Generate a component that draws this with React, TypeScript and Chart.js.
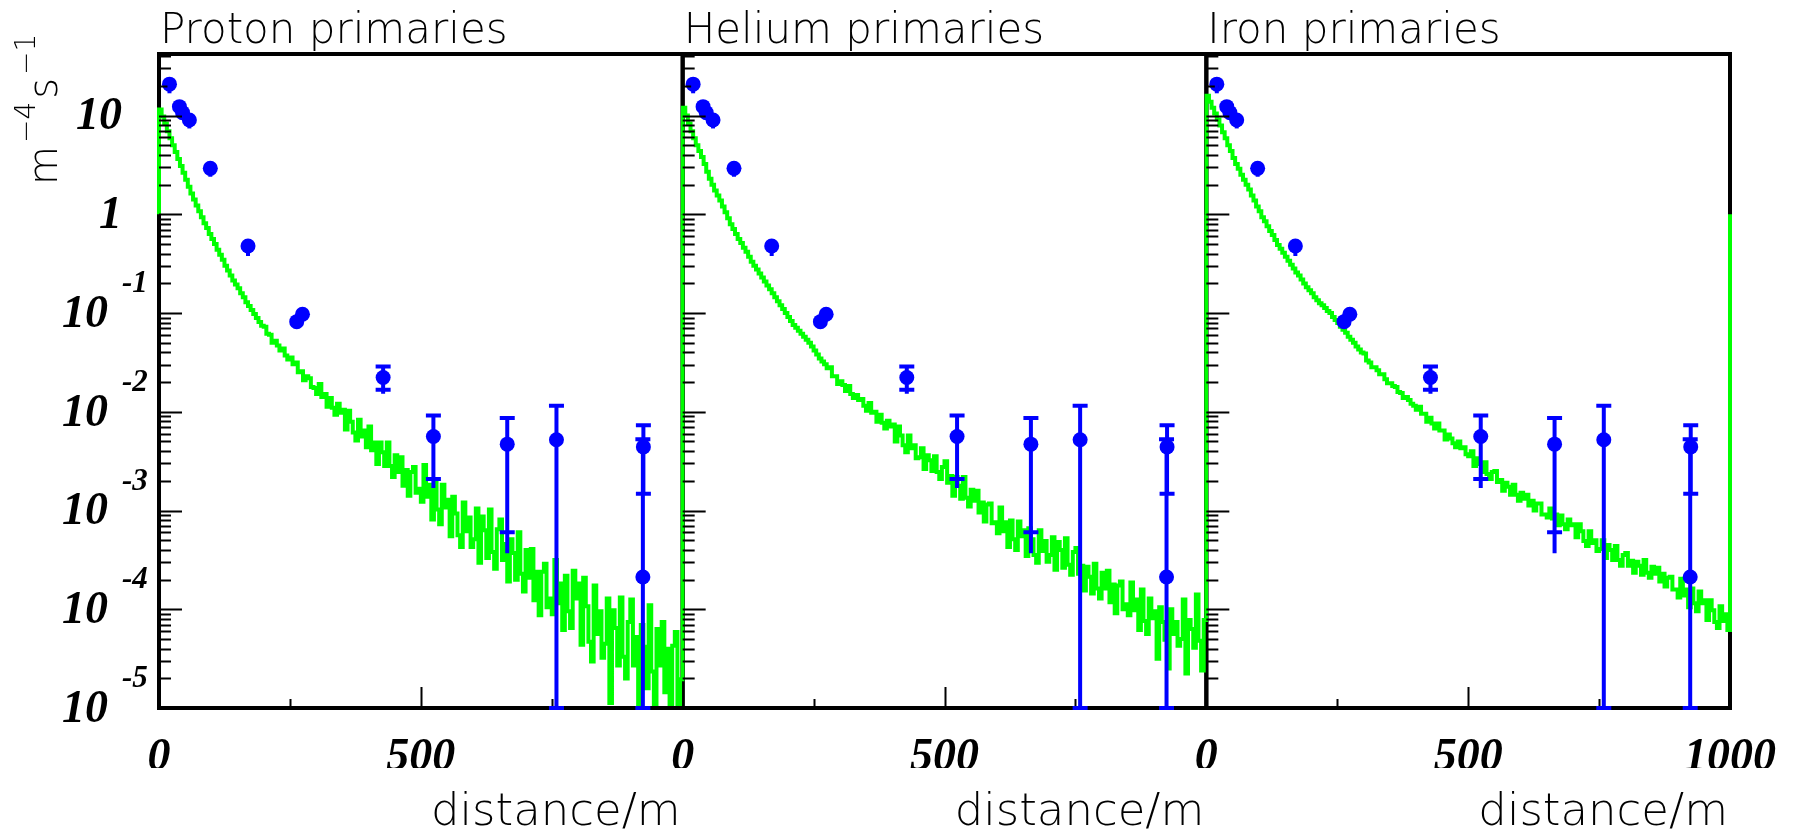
import { useEffect, useRef } from "react";
import { Chart, registerables } from "chart.js";

Chart.register(...registerables);

// ---------------- data ----------------
const PANEL_TITLES = ["Proton primaries", "Helium primaries", "Iron primaries"];
const X_AXIS_TITLE = "distance/m";
const Y_TITLE_PARTS: [string, boolean][] = [
  ["m", false],
  ["\u22124", true],
  ["s", false],
  ["\u22121", true],
];

// simulated lateral distributions as log10(flux / m^-4 s^-1),
// one value per 5 m bin from 0 to 1000 m
const HIST_BIN_WIDTH = 5;
const HIST_BASELINE = 1;

const PROTON_LOG10_FLUX = [
  1.06, 0.99, 0.92, 0.84, 0.77, 0.70, 0.63, 0.56, 0.49, 0.42,
  0.35, 0.28, 0.21, 0.15, 0.09, 0.03, -0.03, -0.09, -0.14, -0.20,
  -0.25, -0.30, -0.36, -0.41, -0.46, -0.52, -0.57, -0.62, -0.67, -0.71,
  -0.75, -0.80, -0.84, -0.89, -0.93, -0.97, -1.01, -1.05, -1.09, -1.13,
  -1.14, -1.21, -1.22, -1.30, -1.28, -1.33, -1.38, -1.36, -1.43, -1.47,
  -1.45, -1.52, -1.50, -1.60, -1.59, -1.68, -1.64, -1.66, -1.75, -1.76,
  -1.82, -1.72, -1.85, -1.82, -1.95, -1.86, -1.96, -2.03, -1.92, -2.01,
  -1.98, -2.18, -1.99, -2.10, -2.21, -2.29, -2.08, -2.25, -2.19, -2.36,
  -2.15, -2.39, -2.31, -2.53, -2.31, -2.41, -2.55, -2.31, -2.55, -2.66,
  -2.44, -2.61, -2.46, -2.75, -2.59, -2.85, -2.61, -2.56, -2.82, -2.78,
  -2.91, -2.54, -2.86, -2.74, -3.09, -2.72, -2.99, -3.14, -2.74, -2.97,
  -2.89, -3.26, -2.86, -3.03, -3.25, -3.37, -2.92, -3.21, -3.07, -3.37,
  -3.29, -2.98, -3.53, -3.06, -3.20, -3.48, -2.99, -3.42, -3.59, -3.19,
  -3.09, -3.50, -3.34, -3.72, -3.29, -3.43, -3.70, -3.22, -3.64, -3.82,
  -3.40, -3.68, -3.39, -3.91, -3.62, -4.06, -3.62, -3.54, -3.98, -3.89,
  -4.05, -3.50, -3.94, -3.74, -4.21, -3.66, -4.02, -4.19, -3.61, -3.89,
  -3.74, -4.36, -3.68, -3.97, -4.33, -4.53, -3.76, -4.25, -4.02, -4.49,
  -4.35, -3.89, -4.95, -4.01, -4.19, -4.57, -3.88, -4.48, -4.70, -4.13,
  -3.90, -4.57, -4.28, -5.20, -4.16, -4.38, -4.80, -3.96, -4.63, -5.10,
  -4.20, -4.57, -4.13, -4.84, -4.40, -5.30, -4.37, -4.23, -5.20, -4.71,
];

const HELIUM_LOG10_FLUX = [
  1.08, 1.00, 0.92, 0.84, 0.77, 0.70, 0.64, 0.58, 0.51, 0.43,
  0.36, 0.30, 0.24, 0.19, 0.14, 0.08, 0.02, -0.04, -0.10, -0.15,
  -0.20, -0.25, -0.29, -0.34, -0.38, -0.43, -0.48, -0.52, -0.56, -0.60,
  -0.64, -0.68, -0.72, -0.76, -0.80, -0.84, -0.88, -0.92, -0.96, -1.00,
  -1.04, -1.08, -1.12, -1.15, -1.18, -1.21, -1.24, -1.27, -1.30, -1.34,
  -1.38, -1.42, -1.46, -1.49, -1.52, -1.56, -1.55, -1.64, -1.64, -1.72,
  -1.69, -1.73, -1.79, -1.74, -1.82, -1.86, -1.83, -1.88, -1.87, -1.94,
  -1.99, -1.91, -2.01, -2.00, -2.10, -2.03, -2.11, -2.17, -2.09, -2.15,
  -2.13, -2.30, -2.15, -2.24, -2.34, -2.41, -2.24, -2.37, -2.34, -2.47,
  -2.46, -2.37, -2.58, -2.44, -2.49, -2.60, -2.45, -2.61, -2.68, -2.56,
  -2.50, -2.72, -2.65, -2.85, -2.66, -2.75, -2.88, -2.66, -2.87, -2.96,
  -2.79, -2.90, -2.80, -3.02, -2.92, -3.11, -2.94, -2.93, -3.13, -3.12,
  -3.23, -2.97, -3.21, -3.12, -3.37, -3.10, -3.29, -3.40, -3.11, -3.26,
  -3.20, -3.46, -3.18, -3.29, -3.45, -3.53, -3.20, -3.41, -3.31, -3.52,
  -3.45, -3.27, -3.60, -3.32, -3.40, -3.58, -3.28, -3.55, -3.65, -3.42,
  -3.38, -3.64, -3.56, -3.81, -3.57, -3.67, -3.84, -3.54, -3.79, -3.89,
  -3.63, -3.79, -3.61, -3.93, -3.75, -4.04, -3.76, -3.72, -4.00, -3.95,
  -4.06, -3.73, -4.01, -3.90, -4.21, -3.80, -4.12, -4.25, -3.89, -4.09,
  -4.02, -4.50, -3.98, -4.13, -4.31, -4.60, -4.00, -4.25, -4.13, -4.37,
  -4.30, -3.90, -4.65, -4.11, -4.20, -4.39, -3.85, -4.32, -4.62, -4.11,
];

const IRON_LOG10_FLUX = [
  1.20, 1.14, 1.08, 1.02, 0.96, 0.90, 0.83, 0.77, 0.70, 0.64,
  0.57, 0.51, 0.46, 0.40, 0.35, 0.30, 0.25, 0.19, 0.14, 0.08,
  0.03, -0.03, -0.07, -0.12, -0.17, -0.21, -0.26, -0.31, -0.35, -0.39,
  -0.43, -0.47, -0.51, -0.55, -0.59, -0.62, -0.66, -0.70, -0.74, -0.77,
  -0.80, -0.84, -0.87, -0.90, -0.92, -0.95, -0.98, -1.00, -1.04, -1.07,
  -1.10, -1.14, -1.17, -1.20, -1.24, -1.27, -1.30, -1.34, -1.37, -1.40,
  -1.41, -1.48, -1.50, -1.55, -1.55, -1.58, -1.62, -1.62, -1.67, -1.71,
  -1.71, -1.74, -1.75, -1.80, -1.81, -1.86, -1.85, -1.88, -1.92, -1.94,
  -1.98, -1.95, -2.02, -2.02, -2.10, -2.06, -2.12, -2.17, -2.12, -2.19,
  -2.19, -2.28, -2.23, -2.27, -2.32, -2.36, -2.30, -2.37, -2.36, -2.43,
  -2.45, -2.40, -2.55, -2.47, -2.53, -2.61, -2.51, -2.63, -2.68, -2.61,
  -2.60, -2.71, -2.69, -2.80, -2.72, -2.76, -2.84, -2.74, -2.84, -2.90,
  -2.82, -2.88, -2.84, -2.95, -2.90, -3.00, -2.93, -2.93, -3.04, -3.04,
  -3.07, -2.98, -3.08, -3.04, -3.15, -3.05, -3.14, -3.19, -3.09, -3.15,
  -3.14, -3.27, -3.14, -3.21, -3.31, -3.36, -3.21, -3.33, -3.30, -3.41,
  -3.39, -3.30, -3.48, -3.35, -3.40, -3.50, -3.36, -3.50, -3.56, -3.45,
  -3.43, -3.56, -3.51, -3.63, -3.52, -3.56, -3.65, -3.50, -3.63, -3.68,
  -3.57, -3.64, -3.58, -3.72, -3.64, -3.77, -3.68, -3.67, -3.80, -3.80,
  -3.88, -3.69, -3.86, -3.80, -3.98, -3.79, -3.94, -4.02, -3.82, -3.94,
  -3.91, -4.11, -3.91, -4.01, -4.13, -4.19, -3.97, -4.12, -4.05, -4.21,
];

// measured data (same in every panel), m^-4 s^-1
const DATA_DISTANCE = [20, 39, 45, 58, 98, 170, 263, 274, 428, 524, 665, 759, 925, 924];
const DATA_FLUX = [20.8, 12.3, 10.7, 9.0, 2.92, 0.478, 0.0818, 0.0973, 0.0222, 0.00561, 0.0047, 0.0052, 0.00441, 0.000212];
const DATA_ERR_HIGH = [null, null, null, null, null, null, null, null, 0.0287, 0.00916, 0.00867, 0.0115, 0.0073, 0.00528];
const DATA_ERR_LOW = [null, null, null, null, null, null, null, null, 0.0167, 0.00208, 0.000604, 1e-7, 0.00148, 1e-7];
const DATA_TAIL_LOW = [16.8, null, null, 7.4, 2.4, 0.378, null, null, 0.0152, 0.00169, 0.00037, null, null, null];

// axes
const X_MIN = 0;
const X_MAX = 1000;
const X_TICK_STEP = 500;
const X_MAJOR_TICKS = [500];
const X_MINOR_TICKS = [250, 750];
const Y_MIN = 1e-5;
const Y_MAX = 42;
const Y_DECADES = [10, 1, 0.1, 0.01, 0.001, 0.0001, 0.00001];
const Y_LABEL_BASE = ["10", "1", "10", "10", "10", "10", "10"];
const Y_LABEL_EXP = ["", "", "-1", "-2", "-3", "-4", "-5"];
const Y_MINOR_FACTORS = [2, 3, 4, 5, 6, 7, 8, 9];

// ---------------- style ----------------
const W = 1799;
const H = 835;
const PAD = { left: 159, right: 59, top: 54, bottom: 67 };
const X_AXIS_BOX = 60;
const PANEL_IDS = ["x0", "x1", "x2"];
const LOG_FLUXES = [PROTON_LOG10_FLUX, HELIUM_LOG10_FLUX, IRON_LOG10_FLUX];
const GREEN = "#00ff00";
const BLUE = "#0000ff";
const NUM_FONT = '"Liberation Serif", "Times New Roman", serif';
const TEXT_FONT = '"DejaVu Sans", "Noto Sans", sans-serif';

function histogramPoints(logValues: number[]) {
  const pts: { x: number; y: number }[] = [{ x: 0, y: HIST_BASELINE }];
  logValues.forEach((lv, i) => pts.push({ x: i * HIST_BIN_WIDTH, y: Math.pow(10, lv) }));
  pts.push({ x: logValues.length * HIST_BIN_WIDTH, y: HIST_BASELINE });
  return pts;
}

const rootStylePlugin = {
  id: "rootStyle",
  beforeDatasetsDraw(chart: any) {
    const { ctx, chartArea } = chart;
    ctx.save();
    ctx.strokeStyle = "#000";
    ctx.lineWidth = 4;
    PANEL_IDS.forEach((id) => {
      const s = chart.scales[id];
      ctx.strokeRect(s.left, chartArea.top, s.right - s.left, chartArea.bottom - chartArea.top);
    });
    ctx.restore();
  },
  afterDatasetsDraw(chart: any) {
    const { ctx, chartArea } = chart;
    const ys = chart.scales.y;
    ctx.save();
    // ticks (inside the frame)
    ctx.strokeStyle = "#000";
    ctx.lineWidth = 2;
    PANEL_IDS.forEach((id) => {
      const s = chart.scales[id];
      const left = s.left;
      ctx.beginPath();
      Y_DECADES.forEach((d) => {
        const y = Math.round(ys.getPixelForValue(d)) + 0.5;
        ctx.moveTo(left, y);
        ctx.lineTo(left + 23, y);
        Y_MINOR_FACTORS.forEach((f) => {
          const v = d * f;
          if (v < Y_MAX && v > Y_MIN) {
            const ym = Math.round(ys.getPixelForValue(v)) + 0.5;
            ctx.moveTo(left, ym);
            ctx.lineTo(left + 12, ym);
          }
        });
      });
      X_MAJOR_TICKS.forEach((t) => {
        const x = Math.round(s.getPixelForValue(t)) + 0.5;
        ctx.moveTo(x, chartArea.bottom);
        ctx.lineTo(x, chartArea.bottom - 21);
      });
      X_MINOR_TICKS.forEach((t) => {
        const x = Math.round(s.getPixelForValue(t)) + 0.5;
        ctx.moveTo(x, chartArea.bottom);
        ctx.lineTo(x, chartArea.bottom - 9);
      });
      ctx.stroke();
    });

    // error bars
    ctx.beginPath();
    ctx.rect(chartArea.left, chartArea.top, chartArea.right - chartArea.left, chartArea.bottom - chartArea.top + 2);
    ctx.clip();
    ctx.strokeStyle = BLUE;
    ctx.lineWidth = 4;
    const capHalf = 7.5;
    PANEL_IDS.forEach((id) => {
      const s = chart.scales[id];
      DATA_DISTANCE.forEach((d, i) => {
        const x = s.getPixelForValue(d);
        const y0 = ys.getPixelForValue(DATA_FLUX[i]);
        ctx.beginPath();
        const hi = DATA_ERR_HIGH[i];
        const lo = DATA_ERR_LOW[i];
        const tail = DATA_TAIL_LOW[i];
        if (tail != null) {
          const yt = ys.getPixelForValue(Math.max(tail, Y_MIN));
          ctx.moveTo(x, y0);
          ctx.lineTo(x, yt);
        }
        if (hi != null) {
          const yh = ys.getPixelForValue(hi);
          ctx.moveTo(x, y0);
          ctx.lineTo(x, yh);
          ctx.moveTo(x - capHalf, yh);
          ctx.lineTo(x + capHalf, yh);
        }
        if (lo != null) {
          const yl = Math.min(ys.getPixelForValue(Math.max(lo, Y_MIN)), chartArea.bottom);
          ctx.moveTo(x, y0);
          ctx.lineTo(x, yl);
          ctx.moveTo(x - capHalf, yl);
          ctx.lineTo(x + capHalf, yl);
        }
        ctx.stroke();
      });
    });
    ctx.restore();
  },
  afterDraw(chart: any) {
    const { ctx } = chart;
    const ys = chart.scales.y;
    ctx.save();
    ctx.fillStyle = "#000";
    // panel titles and x titles
    PANEL_IDS.forEach((id, p) => {
      const s = chart.scales[id];
      ctx.font = `200 42px ${TEXT_FONT}`;
      ctx.textAlign = "left";
      ctx.textBaseline = "alphabetic";
      ctx.fillText(PANEL_TITLES[p], s.left + 1, 43);
      ctx.font = `200 45px ${TEXT_FONT}`;
      ctx.textAlign = "right";
      ctx.fillText(X_AXIS_TITLE, s.right - 2, 825);
    });
    // y tick labels
    ctx.textBaseline = "middle";
    Y_DECADES.forEach((d, i) => {
      const y = ys.getPixelForValue(d);
      if (Y_LABEL_EXP[i]) {
        ctx.font = `italic bold 46px ${NUM_FONT}`;
        ctx.textAlign = "right";
        ctx.fillText(Y_LABEL_BASE[i], 108, y + 2);
        ctx.font = `italic bold 31px ${NUM_FONT}`;
        ctx.textAlign = "left";
        ctx.fillText(Y_LABEL_EXP[i], 122, y - 29);
      } else {
        ctx.font = `italic bold 46px ${NUM_FONT}`;
        ctx.textAlign = "right";
        ctx.fillText(Y_LABEL_BASE[i], 122, y + 2);
      }
    });
    // y axis title (rotated)
    ctx.translate(57, 185);
    ctx.rotate(-Math.PI / 2);
    ctx.textAlign = "left";
    ctx.textBaseline = "alphabetic";
    let cx = 0;
    Y_TITLE_PARTS.forEach(([txt, sup]) => {
      ctx.font = sup ? `200 28px ${TEXT_FONT}` : `200 40px ${TEXT_FONT}`;
      ctx.fillText(txt, cx, sup ? -22 : 0);
      cx += ctx.measureText(txt).width + 3;
    });
    ctx.restore();
  },
};

export default function App() {
  const canvasRef = useRef<HTMLCanvasElement | null>(null);

  useEffect(() => {
    const canvas = canvasRef.current;
    if (!canvas) return;
    const datasets: any[] = [];
    LOG_FLUXES.forEach((f, p) => {
      datasets.push({
        type: "line",
        data: histogramPoints(f),
        xAxisID: PANEL_IDS[p],
        yAxisID: "y",
        borderColor: GREEN,
        borderWidth: 4,
        pointRadius: 0,
        stepped: true,
        fill: false,
        tension: 0,
        order: 2,
        clip: { left: 2, right: 2, top: 0, bottom: -2 },
      });
    });
    PANEL_IDS.forEach((id) => {
      datasets.push({
        type: "scatter",
        data: DATA_DISTANCE.map((d, i) => ({ x: d, y: DATA_FLUX[i] })),
        xAxisID: id,
        yAxisID: "y",
        pointRadius: 7.5,
        pointBackgroundColor: BLUE,
        pointBorderColor: BLUE,
        pointBorderWidth: 0,
        showLine: false,
        order: 1,
      });
    });

    const scales: any = {
      y: { type: "logarithmic", min: Y_MIN, max: Y_MAX, display: false, position: "left" },
    };
    PANEL_IDS.forEach((id, p) => {
      scales[id] = {
        type: "linear",
        position: "bottom",
        stack: "panels",
        stackWeight: 1,
        min: X_MIN,
        max: X_MAX,
        offset: false,
        grid: { display: false, drawTicks: false },
        border: { display: false },
        ticks: {
          stepSize: X_TICK_STEP,
          autoSkip: false,
          maxRotation: 0,
          minRotation: 0,
          padding: 23,
          color: "#000",
          font: { family: NUM_FONT, size: 46, style: "italic", weight: "bold" },
          callback: (v: number) => (v === X_MAX && p < PANEL_IDS.length - 1 ? "" : String(v)),
        },
        afterFit: (s: any) => {
          s.height = X_AXIS_BOX;
        },
      };
    });

    const chart = new Chart(canvas, {
      type: "scatter",
      data: { datasets },
      options: {
        animation: false,
        responsive: false,
        maintainAspectRatio: false,
        devicePixelRatio: 1,
        events: [],
        layout: { padding: PAD },
        plugins: { legend: { display: false }, tooltip: { enabled: false }, title: { display: false } },
        scales,
      },
      plugins: [rootStylePlugin],
    } as any);
    return () => chart.destroy();
  }, []);

  return (
    <div style={{ position: "absolute", left: 0, top: 0, width: W, height: H, background: "#fff" }}>
      <canvas ref={canvasRef} width={W} height={H} style={{ display: "block", width: W, height: H }} />
    </div>
  );
}
